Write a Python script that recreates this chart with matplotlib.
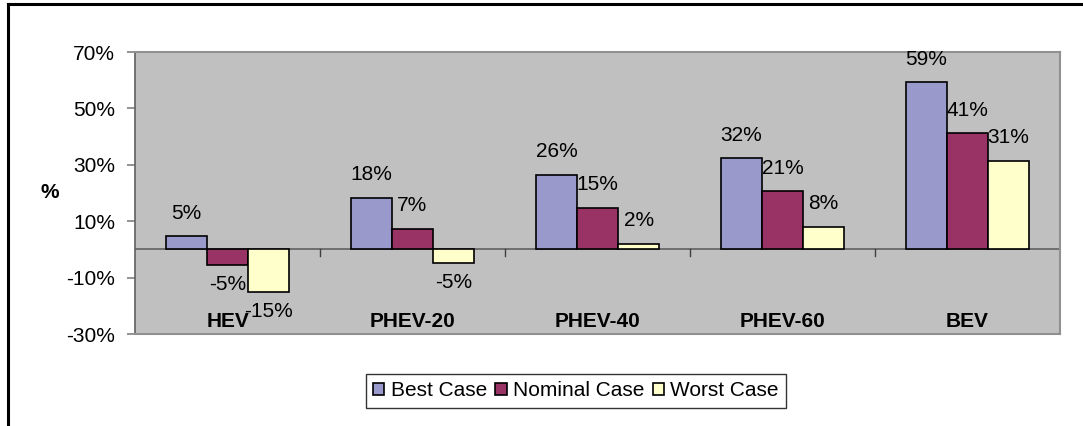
import numpy as np
import matplotlib.pyplot as plt
from matplotlib.lines import Line2D

plt.rcParams['font.family'] = ['Liberation Sans', 'DejaVu Sans']

# Chart data
categories = ["HEV", "PHEV-20", "PHEV-40", "PHEV-60", "BEV"]
series_names = ["Best Case", "Nominal Case", "Worst Case"]
best_case = [4.6, 18.3, 26.4, 32.4, 59.2]
nominal_case = [-5.4, 7.3, 14.8, 20.7, 41.2]
worst_case = [-15.1, -4.7, 2.0, 8.0, 31.4]
colors = ["#9999CC", "#993366", "#FFFFCC"]
y_ticks = [-30, -10, 10, 30, 50, 70]

FS = 15


def main():
    fig = plt.figure(figsize=(10.83, 4.26), dpi=100)
    ax = fig.add_axes([135 / 1083, 92 / 426, 925 / 1083, 282 / 426])
    ax.set_facecolor("#C0C0C0")

    x = np.arange(len(categories))
    width = 1 / 4.5
    series = [best_case, nominal_case, worst_case]
    handles = []
    for i, (vals, col, name) in enumerate(zip(series, colors, series_names)):
        pos = x + (i - 1) * width
        bars = ax.bar(pos, vals, width, color=col, edgecolor="black",
                      linewidth=1.2, label=name, zorder=3)
        handles.append(bars)
        for px, v in zip(pos, vals):
            off = 23 if v >= 0 else -20
            ax.annotate("%.0f%%" % v, (px, v), xytext=(0, off),
                        textcoords="offset pixels", ha="center", va="center",
                        fontsize=FS, color="black", zorder=4)

    # zero line and category boundary ticks
    ax.axhline(0, color="#606060", linewidth=1.2, zorder=2)
    for b in np.arange(0.5, len(categories) - 0.5, 1):
        ax.plot([b, b], [0, -2.2], color="#404040", linewidth=1, zorder=2)

    # category labels near the bottom of the plot area
    for xi, name in zip(x, categories):
        ax.text(xi, -25.5, name, ha="center", va="center",
                fontsize=FS, fontweight="bold", zorder=5)

    ax.set_xlim(-0.5, len(categories) - 0.5)
    ax.set_ylim(-30, 70)
    ax.set_yticks(y_ticks)
    ax.set_yticklabels(["%d%%" % t for t in y_ticks], fontsize=FS)
    ax.set_xticks([])
    ax.tick_params(axis="y", direction="out", length=5.8, color="#808080",
                   width=1.2, pad=8.5)

    for side in ["top", "right", "bottom"]:
        ax.spines[side].set_color("#909090")
        ax.spines[side].set_linewidth(1.5)
    ax.spines["left"].set_color("#606060")
    ax.spines["left"].set_linewidth(1.2)

    fig.text(50 / 1083, 1 - 193 / 426, "%", fontsize=FS, fontweight="bold",
             ha="center", va="center")

    leg = fig.legend(handles=handles, labels=series_names, loc="center",
                     bbox_to_anchor=(576 / 1083, 1 - 391 / 426), ncol=3,
                     fontsize=FS, frameon=True, fancybox=False,
                     handlelength=0.55, handleheight=0.55, handletextpad=0.3,
                     columnspacing=0.4, borderpad=0.35, borderaxespad=0)
    leg.get_frame().set_edgecolor("black")
    leg.get_frame().set_linewidth(1.0)

    # outer frame (top and left edges visible)
    fig.add_artist(Line2D([8 / 1083, 1], [1 - 4 / 426, 1 - 4 / 426],
                          transform=fig.transFigure, color="black", linewidth=2.2))
    fig.add_artist(Line2D([8 / 1083, 8 / 1083], [0, 1 - 4 / 426],
                          transform=fig.transFigure, color="black", linewidth=2.2))

    fig.savefig("out.png", dpi=100, facecolor="white")


if __name__ == "__main__":
    main()
